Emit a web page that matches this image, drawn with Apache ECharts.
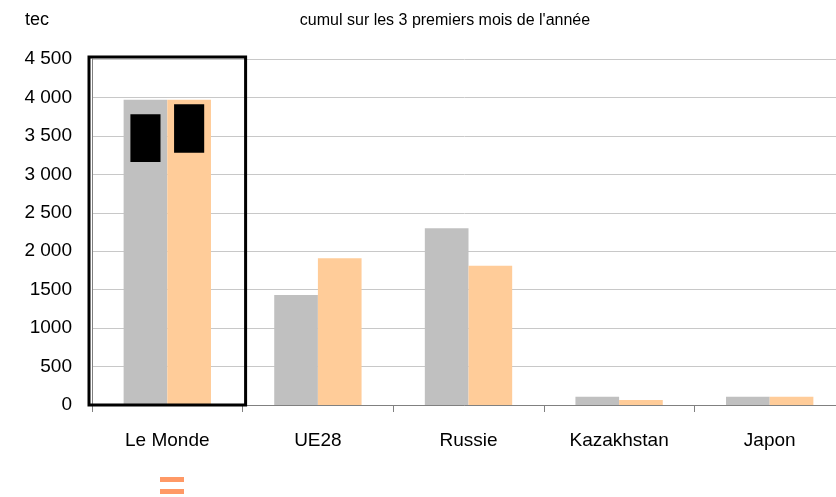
<!DOCTYPE html>
<html>
<head>
<meta charset="utf-8">
<script src="https://cdn.jsdelivr.net/npm/echarts@6/dist/echarts.min.js"></script>
<style>
  html, body { margin: 0; padding: 0; background: #fff; }
  #main { width: 836px; height: 497px; }
</style>
</head>
<body>
<div id="main"></div>
<script>
// catégories et valeurs (tec)
const categories = ["Le Monde", "UE28", "Russie", "Kazakhstan", "Japon"];
const seriesA = [3970, 1430, 2300, 108, 108];   // gris
const seriesB = [3970, 1910, 1810, 65, 108];    // orange
// caches noirs sur les barres "Le Monde" : [catégorie, bas, haut]
const masksA = [[0, 3160, 3780]];
const masksB = [[0, 3280, 3910]];
const yTicks = { min: 0, max: 4500, interval: 500 };

const fontFam = "'Liberation Sans', Arial, sans-serif";

let myChart = echarts.init(document.getElementById("main"));

// rectangle noir centré sur une barre (décalage en fraction de la bande)
function maskRender(shift) {
  return function(params, api) {
    let band = api.size([1, 0])[0];
    let top = api.coord([api.value(0), api.value(2)]);
    let bottom = api.coord([api.value(0), api.value(1)]);
    let w = band * 0.2;
    return {
      type: "rect",
      shape: { x: top[0] + shift * band - w / 2, y: top[1], width: w, height: bottom[1] - top[1] },
      style: { fill: "#000" }
    };
  };
}

let option = {
  animation: false,
  title: [
    {
      text: "tec",
      left: 20, top: 6,
      textStyle: { fontFamily: fontFam, fontSize: 18, fontWeight: "normal", color: "#000" }
    },
    {
      text: "cumul sur les 3 premiers mois de l'année",
      left: 440, top: 8, textAlign: "center",
      textStyle: { fontFamily: fontFam, fontSize: 16, fontWeight: "normal", color: "#000" }
    }
  ],
  grid: { left: 92, right: -9, top: 59, bottom: 92, outerBoundsMode: "none" },
  xAxis: {
    type: "category",
    data: categories,
    axisLine: { lineStyle: { color: "#808080", width: 1 } },
    axisTick: { show: true, length: 7, lineStyle: { color: "#808080" } },
    axisLabel: { fontFamily: fontFam, fontSize: 19, color: "#000", margin: 26 }
  },
  yAxis: {
    type: "value",
    min: yTicks.min, max: yTicks.max, interval: yTicks.interval,
    axisLine: { show: true, lineStyle: { color: "#808080" } },
    axisTick: { show: false },
    splitLine: { lineStyle: { color: "#c8c8c8", width: 1 } },
    axisLabel: {
      fontFamily: fontFam, fontSize: 19, color: "#000", margin: 20,
      formatter: function(v) {
        return v >= 2000 ? String(v).replace(/(\d)(\d{3})$/, "$1 $2") : String(v);
      }
    }
  },
  series: [
    { type: "bar", data: seriesA, barWidth: "29%", barGap: "0%", itemStyle: { color: "#c0c0c0" } },
    { type: "bar", data: seriesB, barWidth: "29%", barGap: "0%", itemStyle: { color: "#ffcc99" } },
    { type: "custom", data: masksA, renderItem: maskRender(-0.145), z: 5 },
    { type: "custom", data: masksB, renderItem: maskRender(0.145), z: 5 }
  ]
};
myChart.setOption(option);

// cadre noir autour de "Le Monde", calé sur l'axe
let left = myChart.convertToPixel({ xAxisIndex: 0 }, 0);
let band = myChart.convertToPixel({ xAxisIndex: 0 }, 1) - left;
let yTop = myChart.convertToPixel({ yAxisIndex: 0 }, yTicks.max);
let yBot = myChart.convertToPixel({ yAxisIndex: 0 }, 0);
myChart.setOption({
  graphic: [
    {
      type: "rect", z: 10,
      shape: { x: left - band / 2 - 3, y: yTop - 2, width: band + 6, height: yBot - yTop + 2 },
      style: { fill: null, stroke: "#000", lineWidth: 3 }
    },
    // symbole "=" orange sous le graphique
    { type: "rect", z: 10, shape: { x: 160, y: 477, width: 24, height: 5 }, style: { fill: "#ff9966" } },
    { type: "rect", z: 10, shape: { x: 160, y: 489, width: 24, height: 5 }, style: { fill: "#ff9966" } }
  ]
});
</script>
</body>
</html>
